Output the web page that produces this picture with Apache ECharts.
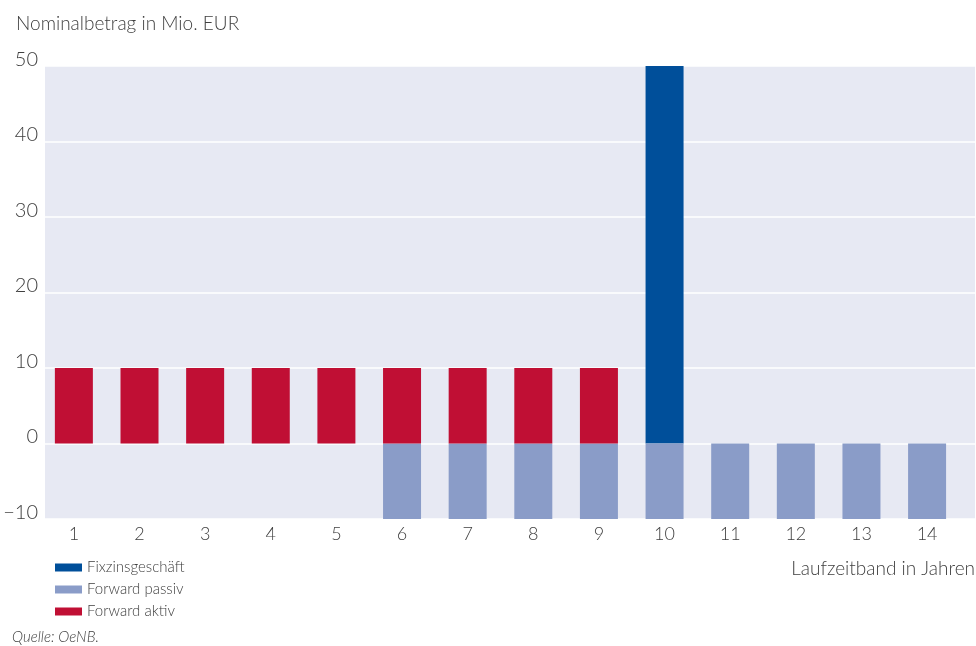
<!DOCTYPE html>
<html>
<head>
<meta charset="utf-8">
<script src="https://cdn.jsdelivr.net/npm/echarts@6/dist/echarts.min.js"></script>
<style>
  html, body { margin: 0; padding: 0; background: #fff; }
  #chart { width: 976px; height: 646px; }
</style>
</head>
<body>
<div id="chart"></div>
<script>
// Laufzeitband 1..14
var bands = [1, 2, 3, 4, 5, 6, 7, 8, 9, 10, 11, 12, 13, 14]
var fixzins = [null, null, null, null, null, null, null, null, null, 50, null, null, null, null]
var fwdPassiv = [null, null, null, null, null, -10, -10, -10, -10, -10, -10, -10, -10, -10]
var fwdAktiv = [10, 10, 10, 10, 10, 10, 10, 10, 10, null, null, null, null, null]

var textColor = '#404040'
var fontName = 'Lato, "Open Sans", sans-serif'

function pairs(values) {
  var out = []
  bands.forEach(function(b, i) {
    if (values[i] !== null) out.push([b, values[i]])
  })
  return out
}

var chart = echarts.init(document.getElementById('chart'))
var option = {
  animation: false,
  textStyle: { fontFamily: fontName, color: textColor },
  title: {
    text: 'Nominalbetrag in Mio. EUR',
    left: 11,
    top: 9,
    textStyle: { fontFamily: fontName, fontSize: 19, fontWeight: 300, color: textColor }
  },
  graphic: [
    {
      type: 'text',
      right: 1,
      top: 559,
      style: { text: 'Laufzeitband in Jahren', font: '300 19px ' + fontName, fill: textColor }
    },
    {
      type: 'text',
      left: 12,
      top: 630,
      style: { text: 'Quelle: OeNB.', font: 'italic 300 15px ' + fontName, fill: textColor }
    }
  ],
  legend: {
    orient: 'vertical',
    left: 50,
    top: 554,
    itemWidth: 27,
    itemHeight: 8,
    itemGap: 5,
    icon: 'rect',
    textStyle: { fontFamily: fontName, fontSize: 15, fontWeight: 300, color: textColor, lineHeight: 17 },
    data: ['Fixzinsgeschäft', 'Forward passiv', 'Forward aktiv']
  },
  grid: {
    left: 45,
    right: 1,
    top: 66,
    bottom: 127,
    show: true,
    backgroundColor: '#e7e9f3',
    borderWidth: 0
  },
  xAxis: {
    type: 'value',
    min: 0.56,
    max: 14.73,
    axisLine: { show: false },
    axisTick: { show: false },
    splitLine: { show: false },
    axisLabel: {
      customValues: bands,
      fontSize: 18,
      fontWeight: 300,
      color: textColor,
      margin: 6
    }
  },
  yAxis: {
    type: 'value',
    min: -10,
    max: 50,
    interval: 10,
    axisLine: { show: false },
    axisTick: { show: false },
    splitLine: { show: true, lineStyle: { color: '#ffffff', width: 1.5 } },
    axisLabel: {
      fontSize: 20,
      fontWeight: 300,
      color: textColor,
      margin: 7,
      verticalAlign: 'bottom',
      lineHeight: 13,
      formatter: function(v) { return v < 0 ? '\u2212' + Math.abs(v) : String(v) }
    }
  },
  series: [
    {
      name: 'Fixzinsgeschäft',
      type: 'bar',
      barWidth: 38,
      barGap: '-100%',
      itemStyle: { color: '#004f9a' },
      data: pairs(fixzins)
    },
    {
      name: 'Forward passiv',
      type: 'bar',
      barWidth: 38,
      barGap: '-100%',
      itemStyle: { color: '#8a9cc8' },
      data: pairs(fwdPassiv)
    },
    {
      name: 'Forward aktiv',
      type: 'bar',
      barWidth: 38,
      barGap: '-100%',
      itemStyle: { color: '#c00f34' },
      data: pairs(fwdAktiv)
    }
  ]
}
chart.setOption(option)
</script>
</body>
</html>
